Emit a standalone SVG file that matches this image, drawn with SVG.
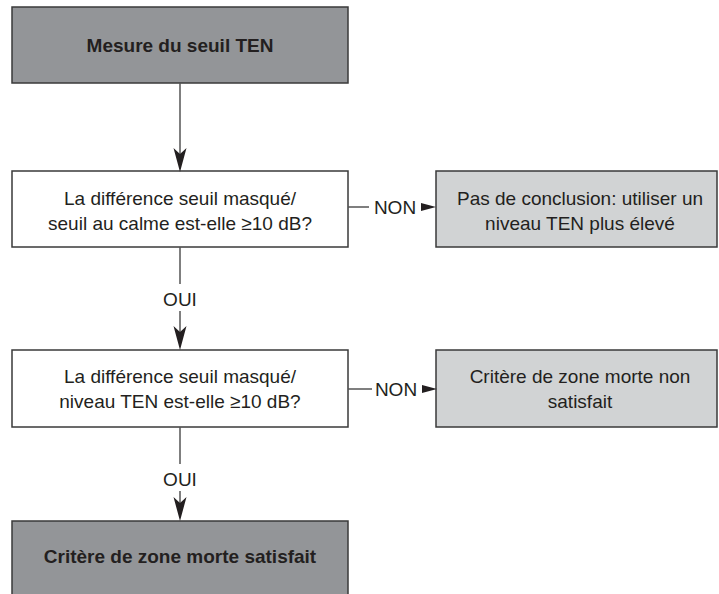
<svg xmlns="http://www.w3.org/2000/svg" width="719" height="594" viewBox="0 0 719 594">
<defs>
<style>
.dark{fill:#939598;stroke:#3a3a3a;stroke-width:1.5}
.white{fill:#ffffff;stroke:#3a3a3a;stroke-width:1.5}
.light{fill:#d1d3d4;stroke:#3a3a3a;stroke-width:1.5}
.t{font-family:"Liberation Sans",Arial,sans-serif;font-size:19px;fill:#231f20;text-anchor:middle}
.b{font-weight:bold}
.c{stroke:#555;stroke-width:1.5;fill:none}
.ah{fill:#231f20}
</style>
</defs>
<g id="n1">
<rect class="dark" x="12" y="7" width="336" height="76"/>
<text class="t b" x="180" y="52">Mesure du seuil TEN</text>
</g>
<g id="n2">
<rect class="white" x="12" y="171" width="336" height="76"/>
<text class="t" x="180" y="205">La différence seuil masqué/</text>
<text class="t" x="180" y="230">seuil au calme est-elle ≥10 dB?</text>
</g>
<g id="n3">
<rect class="light" x="436" y="171" width="281" height="76"/>
<text class="t" x="580" y="205">Pas de conclusion: utiliser un</text>
<text class="t" x="580" y="230">niveau TEN plus élevé</text>
</g>
<g id="n4">
<rect class="white" x="12" y="350" width="336" height="77"/>
<text class="t" x="180" y="383">La différence seuil masqué/</text>
<text class="t" x="180" y="408">niveau TEN est-elle ≥10 dB?</text>
</g>
<g id="n5">
<rect class="light" x="436" y="350" width="281" height="77"/>
<text class="t" x="580" y="383">Critère de zone morte non</text>
<text class="t" x="580" y="408">satisfait</text>
</g>
<g id="n6">
<rect class="dark" x="12" y="521" width="336" height="80"/>
<text class="t b" x="180" y="563">Critère de zone morte satisfait</text>
</g>
<g id="connectors">
<line class="c" x1="180" y1="83" x2="180" y2="160"/>
<path class="ah" d="M180,172 L173.5,148 L180,154 L186.5,148 Z"/>
<line class="c" x1="180" y1="247" x2="180" y2="284"/>
<text class="t" x="180" y="306">OUI</text>
<line class="c" x1="180" y1="311" x2="180" y2="340"/>
<path class="ah" d="M180,350 L173.5,326 L180,332 L186.5,326 Z"/>
<line class="c" x1="348" y1="207" x2="369" y2="207"/>
<text class="t" x="395" y="214">NON</text>
<path class="ah" d="M436,207 L421,203 L421,211 Z"/>
<line class="c" x1="348" y1="389" x2="372" y2="389"/>
<text class="t" x="396" y="396">NON</text>
<path class="ah" d="M437,389 L422,385 L422,393 Z"/>
<line class="c" x1="180" y1="427" x2="180" y2="464"/>
<text class="t" x="180" y="486">OUI</text>
<line class="c" x1="180" y1="491" x2="180" y2="511"/>
<path class="ah" d="M180,521 L173.5,497 L180,503 L186.5,497 Z"/>
</g>
</svg>
